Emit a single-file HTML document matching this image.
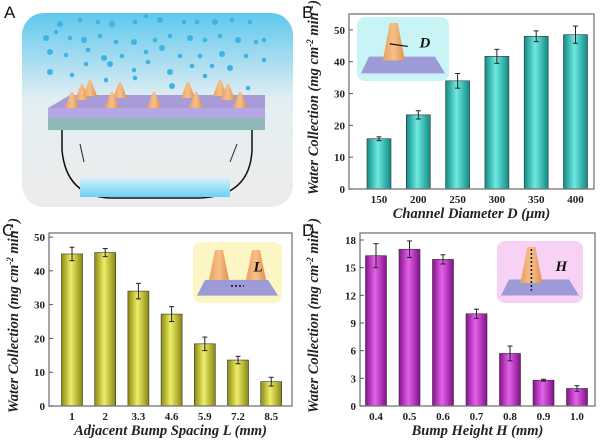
<!DOCTYPE html>
<html><head><meta charset="utf-8"><style>
html,body{margin:0;padding:0;background:#fff;}
svg{display:block;font-family:"Liberation Serif",serif;}
.tk{font-size:11px;font-weight:bold;fill:#222;}
.at{font-size:14.5px;font-weight:bold;font-style:italic;fill:#222;}
.pl{font-family:"Liberation Sans",sans-serif;font-size:17px;fill:#111;}
</style></head><body>
<svg id="fig" width="600" height="441" viewBox="0 0 600 441" xmlns="http://www.w3.org/2000/svg">
<defs>
<linearGradient id="sky" x1="0" y1="0" x2="0" y2="1"><stop offset="0" stop-color="#5fc8ee"/><stop offset="0.45" stop-color="#e4eef2"/><stop offset="1" stop-color="#ececec"/></linearGradient>
<linearGradient id="water" x1="0" y1="0" x2="0" y2="1"><stop offset="0" stop-color="#d4f0fa"/><stop offset="1" stop-color="#6cd0f2"/></linearGradient>
<linearGradient id="cone" x1="0" y1="0" x2="1" y2="0"><stop offset="0" stop-color="#e9a060"/><stop offset="0.5" stop-color="#f6c08a"/><stop offset="1" stop-color="#e09050"/></linearGradient>
<linearGradient id="gB" x1="0" y1="0" x2="1" y2="0"><stop offset="0" stop-color="#128a85"/><stop offset="0.45" stop-color="#6eeae2"/><stop offset="1" stop-color="#108a84"/></linearGradient>
<linearGradient id="gC" x1="0" y1="0" x2="1" y2="0"><stop offset="0" stop-color="#8a8a0e"/><stop offset="0.45" stop-color="#eeee6a"/><stop offset="1" stop-color="#888810"/></linearGradient>
<linearGradient id="gD" x1="0" y1="0" x2="1" y2="0"><stop offset="0" stop-color="#85128a"/><stop offset="0.45" stop-color="#e462ea"/><stop offset="1" stop-color="#82108a"/></linearGradient>
</defs>

<g>
<text class="pl" x="4" y="18">A</text>
<rect x="22" y="13" width="271" height="194" rx="22" fill="url(#sky)"/>
<g id="drops" fill="#3fb4e4"></g>
<path d="M62 130 L62 150 Q66 196 110 198 L200 198 Q250 196 252 150 L252 130" fill="none" stroke="#111" stroke-width="1.5"/>
<rect x="80" y="178" width="150" height="19" fill="url(#water)"/>
<polygon points="70,95 265,95 265,118 48,118 48,108" fill="#a99ad8"/>
<rect x="48" y="108" width="217" height="10" fill="#b6a6e6"/>
<rect x="48" y="118" width="217" height="12" fill="#8fb8b8"/>
<g id="cones" fill="url(#cone)"></g>
<line x1="80" y1="144" x2="84" y2="162" stroke="#222" stroke-width="1"/>
<line x1="237" y1="144" x2="230" y2="162" stroke="#222" stroke-width="1"/>
</g>

<g id="charts"></g>
</svg>
<script>
// Panel B data
const catsB = ["150","200","250","300","350","400"];
const valsB = [15.8, 23.3, 34.0, 41.7, 48.0, 48.5];
const errB  = [0.6, 1.3, 2.3, 2.2, 1.7, 2.7];
const ticksB = [0,10,20,30,40,50];
// Panel C data
const catsC = ["1","2","3.3","4.6","5.9","7.2","8.5"];
const valsC = [45.0, 45.4, 34.0, 27.2, 18.4, 13.6, 7.2];
const errC  = [2.0, 1.2, 2.3, 2.2, 2.0, 1.1, 1.3];
const ticksC = [0,10,20,30,40,50];
// Panel D data
const catsD = ["0.4","0.5","0.6","0.7","0.8","0.9","1.0"];
const valsD = [16.3, 17.0, 15.9, 10.0, 5.7, 2.8, 1.9];
const errD  = [1.3, 0.9, 0.5, 0.5, 0.8, 0.1, 0.3];
const ticksD = [0,3,6,9,12,15,18];

const NS = "http://www.w3.org/2000/svg";
function mk(tag, attrs, parent){
  const e = document.createElementNS(NS, tag);
  for (const k in attrs) e.setAttribute(k, attrs[k]);
  parent.appendChild(e);
  return e;
}
const root = document.getElementById('charts');

function panel(cfg){
  const g = mk('g', {}, root);
  
  
  const y = v => cfg.y0 - (v - 0) / cfg.ymax * (cfg.y0 - cfg.ytop);
  const x = i => cfg.x0 + i * cfg.step;
  const lab = mk('text', {x: cfg.lx, y: cfg.ly, class: 'pl'}, g);
  lab.textContent = cfg.id.toUpperCase();
  
  
  const ins = mk('g', {}, g);
  
  
  const b = cfg.inset;
  mk('rect', {x: b[0], y: b[1], width: b[2], height: b[3], rx: 8, fill: cfg.insetBg}, ins);
  const bx = b[0], by = b[1], bw = b[2], bh = b[3];
  mk('polygon', {points: `${bx+12},${by+bh*0.62} ${bx+bw-14},${by+bh*0.62} ${bx+bw-4},${by+bh*0.88} ${bx+4},${by+bh*0.88}`, fill: '#9d9ad8'}, ins);
  if (cfg.id === 'c') {
    mk('polygon', {points: `${bx+16},${by+bh*0.62} ${bx+22},${by+8} ${bx+30},${by+8} ${bx+36},${by+bh*0.62}`, fill: 'url(#cone)'}, ins);
    mk('polygon', {points: `${bx+bw-36},${by+bh*0.62} ${bx+bw-30},${by+8} ${bx+bw-22},${by+8} ${bx+bw-16},${by+bh*0.62}`, fill: 'url(#cone)'}, ins);
    mk('line', {x1: bx+38, y1: by+bh*0.72, x2: bx+bw-38, y2: by+bh*0.72, stroke: '#111', 'stroke-dasharray': '2,2', 'stroke-width': 1.5}, ins);
  } else {
    const cx = bx + bw*0.4;
    mk('polygon', {points: `${cx-11},${by+bh*0.68} ${cx-4},${by+6} ${cx+4},${by+6} ${cx+11},${by+bh*0.68}`, fill: 'url(#cone)'}, ins);
    if (cfg.id === 'd') mk('line', {x1: cx, y1: by+8, x2: cx, y2: by+bh*0.8, stroke: '#111', 'stroke-dasharray': '2,2', 'stroke-width': 1.5}, ins);
    else mk('line', {x1: cx-4, y1: by+bh*0.42, x2: cx+14, y2: by+bh*0.46, stroke: '#111', 'stroke-width': 1.2}, ins);
  }
  const it = mk('text', {x: bx+bw*0.68, y: by+bh*0.48, 'font-size': 15, 'font-weight': 'bold', 'font-style': 'italic', fill: '#111'}, ins);
  it.textContent = cfg.sym;
  cfg.vals.forEach((v, i) => {
    const r = mk('rect', {x: x(i) - cfg.bw/2, y: y(v), width: cfg.bw, height: cfg.y0 - y(v), fill: cfg.fill, stroke: '#333', 'stroke-width': 0.6}, g);
    
    
    const e = cfg.err[i];
    const eg = mk('g', {stroke: '#222', 'stroke-width': 1}, g);
    
    
    mk('line', {x1: x(i), x2: x(i), y1: y(v+e), y2: y(v-e)}, eg);
    mk('line', {x1: x(i)-2.5, x2: x(i)+2.5, y1: y(v+e), y2: y(v+e)}, eg);
    mk('line', {x1: x(i)-2.5, x2: x(i)+2.5, y1: y(v-e), y2: y(v-e)}, eg);
    const t = mk('text', {x: x(i), y: cfg.y0 + 14, class: 'tk', 'text-anchor': 'middle'}, g);
    t.textContent = cfg.cats[i];
    
    
  });
  const ax = mk('rect', {x: cfg.bx0, y: cfg.ytop, width: cfg.bx1 - cfg.bx0, height: cfg.y0 - cfg.ytop, fill: 'none', stroke: '#777', 'stroke-width': 1.3}, g);
  
  
  cfg.ticks.forEach(tv => {
    mk('line', {x1: cfg.bx0, x2: cfg.bx0 + 4, y1: y(tv), y2: y(tv), stroke: '#555'}, g);
    const t = mk('text', {x: cfg.bx0 - 4, y: y(tv) + 4, class: 'tk', 'text-anchor': 'end'}, g);
    t.textContent = tv;
    
    
  });
  const xt = mk('text', {x: (cfg.bx0 + cfg.bx1)/2, y: cfg.y0 + 29, class: 'at', 'text-anchor': 'middle'}, g);
  xt.textContent = cfg.xtitle;
  
  
  const ycx = cfg.yTitleX, ycy = (cfg.ytop + cfg.y0)/2 - 4;
  const yt = mk('text', {x: ycx, y: ycy, class: 'at', 'text-anchor': 'middle', transform: `rotate(-90 ${ycx} ${ycy})`, 'font-size': 14}, g);
  yt.innerHTML = 'Water Collection (mg cm<tspan font-size="9" dy="-5">-2</tspan><tspan dy="5"> min</tspan><tspan font-size="9" dy="-5">-1</tspan><tspan dy="5">)</tspan>';
  
  
}

panel({id:'b', cats:catsB, vals:valsB, err:errB, ticks:ticksB, ymax:55, y0:189, ytop:14, bx0:349, bx1:594,
  x0:379, step:39.3, bw:24, fill:'url(#gB)', lx:302, ly:18, yTitleX:318,
  inset:[357,17,92,64], insetBg:'#c8f4f6', sym:'D', xtitle:'Channel Diameter D (\u03bcm)'});
panel({id:'c', cats:catsC, vals:valsC, err:errC, ticks:ticksC, ymax:51.2, y0:406, ytop:233, bx0:49, bx1:292,
  x0:72, step:33.2, bw:21, fill:'url(#gC)', lx:2, ly:236, yTitleX:18,
  inset:[193,242,89,61], insetBg:'#fbf6c4', sym:'L', xtitle:'Adjacent Bump Spacing L (mm)'});
panel({id:'d', cats:catsD, vals:valsD, err:errD, ticks:ticksD, ymax:18.76, y0:406, ytop:233, bx0:360, bx1:595,
  x0:376, step:33.5, bw:21, fill:'url(#gD)', lx:302, ly:236, yTitleX:318,
  inset:[497,241,86,62], insetBg:'#f8d2f4', sym:'H', xtitle:'Bump Height H (mm)'});

const dg = document.getElementById('drops');
[[60,24],[80,20],[98,22],[112,24],[135,22],[146,16],[160,20],[184,22],[197,22],[215,22],[232,20],[250,22],[46,38],[56,32],[70,38],[84,40],[100,36],[116,42],[134,42],[155,40],[170,36],[190,38],[205,40],[220,36],[238,40],[256,42],[264,40],[50,52],[66,55],[88,50],[104,58],[122,56],[146,52],[162,48],[180,56],[200,56],[222,54],[246,56],[264,60],[50,72],[72,75],[86,64],[110,64],[134,70],[148,62],[170,72],[192,66],[212,66],[230,68],[106,80],[135,78],[172,86],[205,76],[248,88]].forEach((p,i)=>{
  mk('circle',{cx:p[0],cy:p[1],r:(i%3===0)?3:2.3},dg);
});
const cg = document.getElementById('cones');
[[72,108],[82,100],[90,96],[112,108],[120,98],[154,108],[188,98],[196,108],[220,96],[228,100],[240,108]].forEach(p=>{
  mk('polygon',{points:`${p[0]-7},${p[1]} ${p[0]-1},${p[1]-16} ${p[0]+1},${p[1]-16} ${p[0]+7},${p[1]}`},cg);
});
</script>
</body></html>
